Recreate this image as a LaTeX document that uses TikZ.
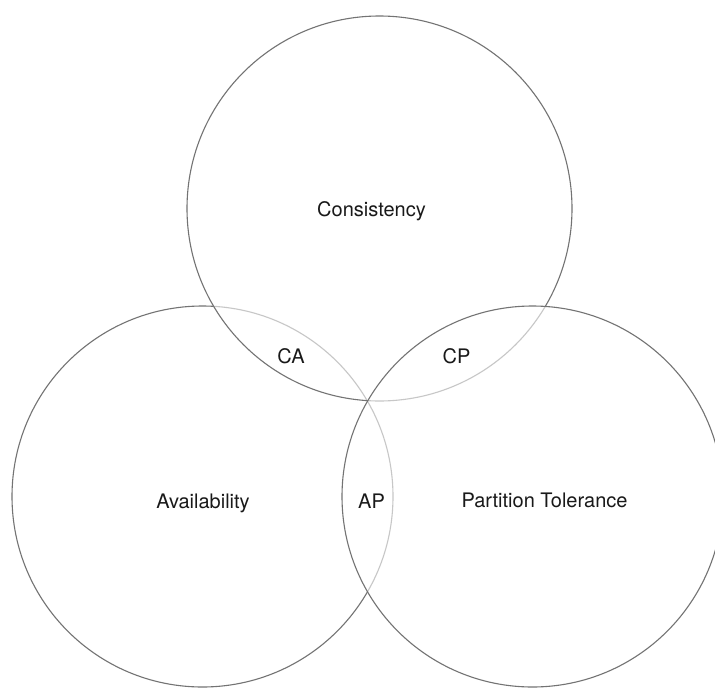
\documentclass[tikz,border=0pt]{standalone}
\usepackage{fontspec}
\setmainfont{TeX Gyre Heros}
\begin{document}
\begin{tikzpicture}[x=1pt,y=-1pt,
  setcircle/.style={circle, draw=black!55, line width=1.1pt, fill=white,
    fill opacity=0.6, draw opacity=1, inner sep=0pt, minimum size=#1},
  setlabel/.style={anchor=base, inner sep=0pt, text=black!90,
    font=\fontsize{20}{24}\selectfont}]
  \clip (0,0) rectangle (715,688);
  \fill[white] (0,0) rectangle (715,688);
  % three overlapping sets; later circles veil the strokes beneath them
  \node[setcircle=381pt] (avail) at (202.5,496.5) {};
  \node[setcircle=385pt] (cons)  at (379.5,208.5) {};
  \node[setcircle=381pt] (part)  at (532.5,496.5) {};
  % set names
  \node[setlabel] (lcons)  at (371.5,216.5) {Consistency};
  \node[setlabel] (lavail) at (203,508) {Availability};
  \node[setlabel] (lpart)  at (544.5,507.5) {Partition Tolerance};
  % pairwise intersections
  \node[setlabel] (lca) at (291,363) {CA};
  \node[setlabel] (lcp) at (456.5,363) {CP};
  \node[setlabel] (lap) at (371.5,508.5) {AP};
\end{tikzpicture}
\end{document}
